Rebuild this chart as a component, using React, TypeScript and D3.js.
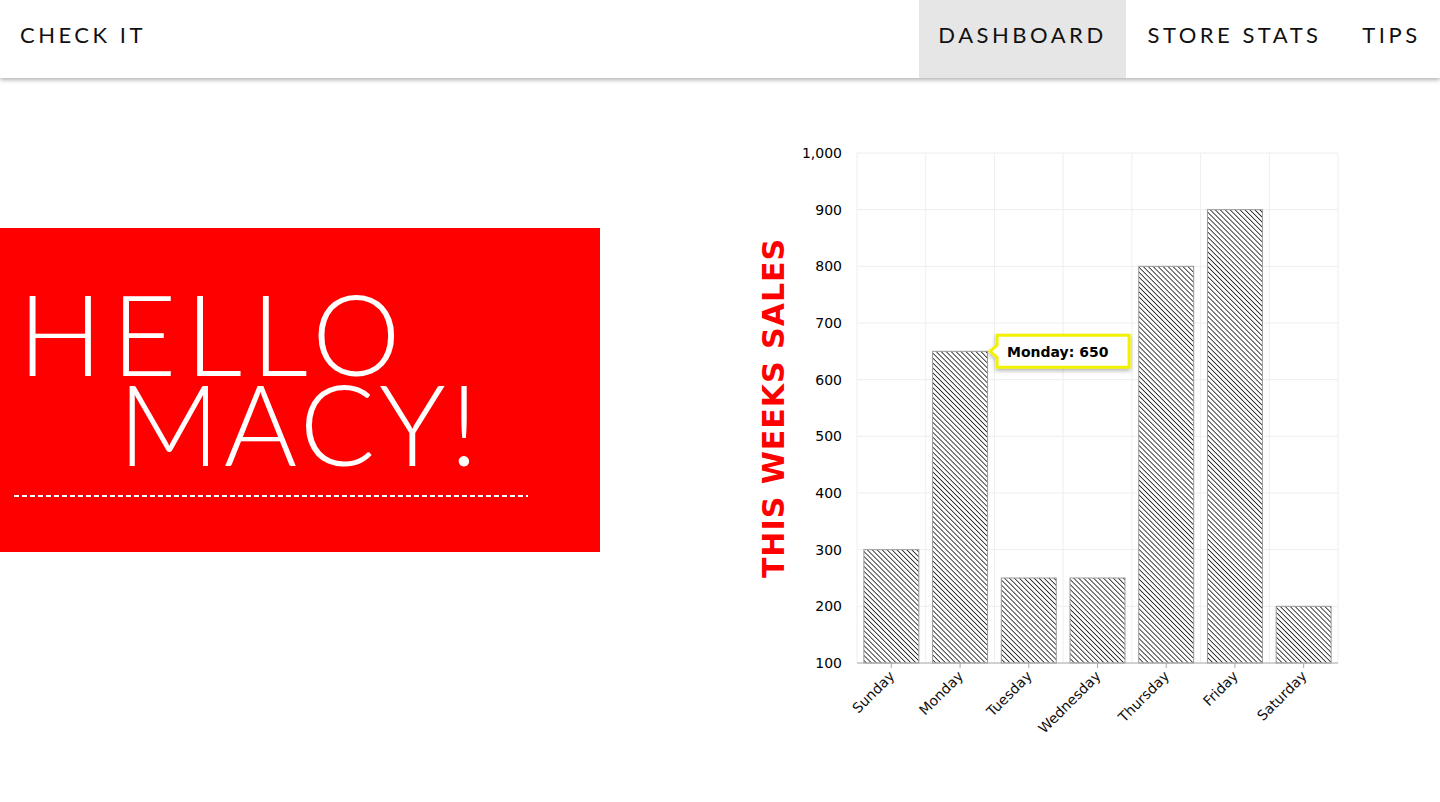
import React from "react";
import * as d3 from "d3";

const days = ["Sunday", "Monday", "Tuesday", "Wednesday", "Thursday", "Friday", "Saturday"];
const sales = [300, 650, 250, 250, 800, 900, 200];
const yTicks = [100, 200, 300, 400, 500, 600, 700, 800, 900, 1000];
const navItems = ["DASHBOARD", "STORE STATS", "TIPS"];

export default function App() {
  const x = d3.scaleBand<string>().domain(days).range([857, 1338]).paddingInner(0.2).paddingOuter(0.1);
  const step = x.step();
  const y = d3.scaleLinear().domain([100, 1000]).range([663, 153]);
  const fmt = d3.format(",");
  const mon = days[1];
  const tipX = (x(mon) as number) + x.bandwidth() / 2 + 41;
  const tipY = y(650);
  const navX = [919, 1126, 1343];
  const navW = [207, 217, 97];
  return (
    <svg width={1440} height={802} style={{ position: "absolute", left: 0, top: 0, background: "#fff" }}>
      <defs>
        <pattern id="hatch" width="3.5" height="3.5" patternUnits="userSpaceOnUse" patternTransform="rotate(-45)">
          <rect width="3.5" height="3.5" fill="#fff" />
          <line x1="0" y1="0" x2="0" y2="3.5" stroke="#222" strokeWidth="1.7" />
        </pattern>
        <filter id="sh" x="-5%" y="-5%" width="110%" height="150%">
          <feDropShadow dx="0" dy="2" stdDeviation="2" floodColor="#000" floodOpacity="0.3" />
        </filter>
      </defs>
      <rect x={0} y={0} width={1440} height={78} fill="#fff" filter="url(#sh)" />
      <rect x={919} y={0} width={207} height={78} fill="#e6e6e6" />
      <text x={20} y={43} fontFamily="Lato" fontSize={22} letterSpacing={3.5} fill="#111">CHECK IT</text>
      {navItems.map((n, i) => (
        <text key={n} x={navX[i] + navW[i] / 2} y={43} textAnchor="middle" fontFamily="Lato" fontSize={22} letterSpacing={3.5} fill="#111">{n}</text>
      ))}
      <rect x={0} y={228} width={600} height={324} fill="#ff0000" />
      <text x={18} y={376} fontFamily="Lato" fontWeight={300} fontSize={112} letterSpacing={9} fill="#fff">HELLO</text>
      <text x={118} y={466} fontFamily="Lato" fontWeight={300} fontSize={112} letterSpacing={4} fill="#fff">MACY!</text>
      <line x1={14} x2={528} y1={496} y2={496} stroke="#fff" strokeWidth={2} strokeDasharray="5,3" />
      <text transform="translate(784,408) rotate(-90)" textAnchor="middle" fontFamily="DejaVu Sans" fontWeight="bold" fontSize={30} letterSpacing={1} fill="#ff0000">THIS WEEKS SALES</text>
      {yTicks.map((t) => (
        <g key={t}>
          <line x1={857} x2={1338} y1={y(t)} y2={y(t)} stroke="#eee" />
          <text x={842} y={y(t) + 5} textAnchor="end" fontFamily="DejaVu Sans" fontSize={14} fill="#000">{fmt(t)}</text>
        </g>
      ))}
      {days.map((d, i) => (
        <line key={d} x1={857 + i * step} x2={857 + i * step} y1={153} y2={663} stroke="#eee" />
      ))}
      <line x1={1338} x2={1338} y1={153} y2={663} stroke="#eee" />
      {days.map((d, i) => (
        <rect key={d} x={x(d)} y={y(sales[i])} width={x.bandwidth()} height={663 - y(sales[i])} fill="url(#hatch)" stroke="#999" strokeWidth={1} />
      ))}
      <line x1={857} x2={1338} y1={663} y2={663} stroke="#aaa" />
      {days.map((d) => {
        const cx = (x(d) as number) + x.bandwidth() / 2;
        return (
          <g key={d}>
            <line x1={cx} x2={cx} y1={663} y2={668} stroke="#aaa" />
            <text transform={`translate(${cx + 4},${677}) rotate(-45)`} textAnchor="end" fontFamily="DejaVu Sans" fontSize={14} fill="#111">{d}</text>
          </g>
        );
      })}
      <g filter="url(#sh)">
        <path d={`M${tipX - 4},${tipY - 16} H${tipX + 128} V${tipY + 16} H${tipX - 4} V${tipY + 6} L${tipX - 11},${tipY} L${tipX - 4},${tipY - 6} Z`} fill="#fff" stroke="#f2f200" strokeWidth={3} />
      </g>
      <text x={tipX + 6} y={tipY + 6} fontFamily="DejaVu Sans" fontWeight="bold" fontSize={14} fill="#000">Monday: 650</text>
    </svg>
  );
}
